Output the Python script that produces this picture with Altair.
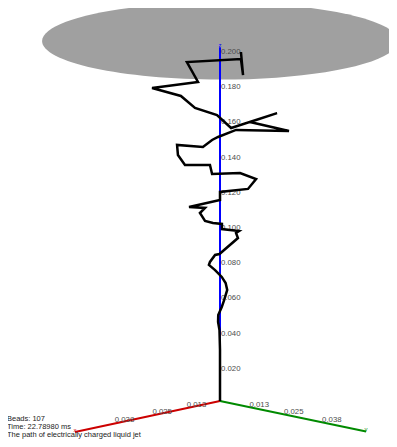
import altair as alt
import pandas as pd

# ---------------- data ----------------
# Jet path, projected: lateral screen offset u and height z (metres)
jet_u = [0.0, 0.0, -0.0003, -0.0011, -0.0010, 0.0010, 0.0024, 0.0041, 0.0032, 0.0010,
         -0.0028, -0.0063, -0.0057, -0.0028, -0.0003, 0.0102, 0.0091, 0.0108, 0.0011, 0.0011,
         -0.0040, -0.0085, -0.0114, -0.0085, -0.0176, 0.0, 0.0, 0.0159, 0.0205, 0.0114,
         -0.0045, -0.0057, -0.0199, -0.0239, -0.0244, -0.0097, -0.0045, -0.0011, 0.0091, 0.0392,
         0.0170, 0.0324, 0.0063, -0.0017, -0.0142, -0.0222, -0.0386, -0.0125, -0.0188, 0.0119,
         0.0131, 0.0119]
jet_z = [0.0, 0.0290, 0.0403, 0.0449, 0.0489, 0.0534, 0.0574, 0.0631, 0.0670, 0.0705,
         0.0744, 0.0773, 0.0790, 0.0830, 0.0835, 0.0926, 0.0955, 0.0966, 0.0977, 0.1006,
         0.1011, 0.1023, 0.1068, 0.1097, 0.1102, 0.1142, 0.1188, 0.1205, 0.1261, 0.1295,
         0.1290, 0.1341, 0.1341, 0.1398, 0.1455, 0.1443, 0.1483, 0.1500, 0.1540, 0.1534,
         0.1585, 0.1636, 0.1551, 0.1625, 0.1665, 0.1733, 0.1778, 0.1813, 0.1926, 0.1943,
         0.1852, 0.1983]

beads = 107
time_ms = "22.78980"
caption = "The path of electrically charged liquid jet"

z_ticks = [0.02, 0.04, 0.06, 0.08, 0.10, 0.12, 0.14, 0.16, 0.18, 0.20]
z_tick_labels = ["0.020", "0.040", "0.060", "0.080", "0.100",
                 "0.120", "0.140", "0.160", "0.180", "0.200"]
xy_ticks = [0.0125, 0.025, 0.0375]
xy_tick_labels = ["0.013", "0.025", "0.038"]
axis_len = 0.05
z_axis_top = 0.201

# projected ends of the horizontal axes (u, z) and perspective factor
x_axis_end = (-0.0824, -0.0176)
y_axis_end = (0.0830, -0.0173)
persp = 0.175

# collector plate (projected ellipse)
plate_z = 0.2045
plate_rx = 0.1011
plate_ratio = 0.2163

# ---------------- layout constants ----------------
W, H = 381, 431
K = 1760.0               # px per metre
ORIGIN_X, ORIGIN_Y = 212, 393   # origin inside the view (px)
umin = -ORIGIN_X / K
umax = umin + W / K
zmax = ORIGIN_Y / K
zmin = zmax - H / K

xs = alt.Scale(domain=[umin, umax], nice=False, zero=False)
ys = alt.Scale(domain=[zmin, zmax], nice=False, zero=False)


def proj(f, end):
    s = (1 - persp) * f / (1 - persp * f)
    return end[0] * s, end[1] * s


# plate
kap = 0.5523
r = plate_ratio
shape = (f"M-1,0C-1,{-kap*r:.4f} {-kap},{-r:.4f} 0,{-r:.4f}"
         f"C{kap},{-r:.4f} 1,{-kap*r:.4f} 1,0"
         f"C1,{kap*r:.4f} {kap},{r:.4f} 0,{r:.4f}"
         f"C{-kap},{r:.4f} -1,{kap*r:.4f} -1,0Z")
plate_df = pd.DataFrame({"u": [0.0], "z": [plate_z]})
plate = alt.Chart(plate_df).mark_point(
    shape=shape, filled=True, color="#a0a0a0", opacity=1, strokeWidth=0,
    size=(2 * plate_rx * K) ** 2
).encode(x=alt.X("u:Q", scale=xs, axis=None), y=alt.Y("z:Q", scale=ys, axis=None))

# axes
ax_rows = []
for name, end in [("x", x_axis_end), ("y", y_axis_end)]:
    ax_rows.append({"axis": name, "i": 0, "u": 0.0, "z": 0.0})
    ax_rows.append({"axis": name, "i": 1, "u": end[0], "z": end[1]})
ax_rows.append({"axis": "z", "i": 0, "u": 0.0, "z": 0.0})
ax_rows.append({"axis": "z", "i": 1, "u": 0.0, "z": z_axis_top})
ax_df = pd.DataFrame(ax_rows)
col_scale = alt.Scale(domain=["x", "y", "z"], range=["#cc0000", "#008a00", "#0000ff"])
axes = alt.Chart(ax_df).mark_line(strokeWidth=2).encode(
    x=alt.X("u:Q", scale=xs, axis=None), y=alt.Y("z:Q", scale=ys, axis=None),
    color=alt.Color("axis:N", scale=col_scale, legend=None),
    detail="axis:N", order="i:Q")

# axis name labels
name_df = pd.DataFrame({
    "axis": ["x", "y", "z"],
    "u": [x_axis_end[0], y_axis_end[0], 0.0],
    "z": [x_axis_end[1], y_axis_end[1], z_axis_top]})
names = alt.Chart(name_df).mark_text(
    fontSize=6, font="Liberation Sans", align="center", baseline="middle", dy=-2
).encode(x=alt.X("u:Q", scale=xs, axis=None), y=alt.Y("z:Q", scale=ys, axis=None),
         text="axis:N", color=alt.Color("axis:N", scale=col_scale, legend=None))

# tick labels
zt_df = pd.DataFrame({"u": [0.0] * len(z_ticks), "z": z_ticks, "t": z_tick_labels})
zlabels = alt.Chart(zt_df).mark_text(
    fontSize=7.8, font="Liberation Sans", align="left", baseline="middle",
    dx=1, dy=3, color="#4d4d4d"
).encode(x=alt.X("u:Q", scale=xs, axis=None), y=alt.Y("z:Q", scale=ys, axis=None), text="t:N")

xy_rows = []
for end in [x_axis_end, y_axis_end]:
    for v, lab in zip(xy_ticks, xy_tick_labels):
        pu, pz = proj(v / axis_len, end)
        xy_rows.append({"u": pu, "z": pz, "t": lab})
xy_df = pd.DataFrame(xy_rows)
xylabels = alt.Chart(xy_df).mark_text(
    fontSize=7.8, font="Liberation Sans", align="left", baseline="middle",
    dx=-2, dy=-3, color="#4d4d4d"
).encode(x=alt.X("u:Q", scale=xs, axis=None), y=alt.Y("z:Q", scale=ys, axis=None), text="t:N")

# jet path
jet_df = pd.DataFrame({"i": list(range(len(jet_u))), "u": jet_u, "z": jet_z})
jet = alt.Chart(jet_df).mark_line(color="black", strokeWidth=2.5, strokeJoin="miter").encode(
    x=alt.X("u:Q", scale=xs, axis=None), y=alt.Y("z:Q", scale=ys, axis=None), order="i:Q")

# info text
info_df = pd.DataFrame({
    "line": [f"Beads: {beads}", f"Time: {time_ms} ms", caption],
    "row": [0, 1, 2]})
info = alt.Chart(info_df).mark_text(
    fontSize=7.5, font="Liberation Sans", align="left", baseline="middle", color="#222222"
).encode(
    x=alt.value(-1),
    y=alt.Y("row:Q", scale=alt.Scale(domain=[0, 2], range=[410.5, 426.5]), axis=None),
    text="line:N")

chart = alt.layer(plate, axes, zlabels, xylabels, names, jet, info).resolve_scale(
    y="independent"
).properties(width=W, height=H, padding=0, autosize="none").configure_view(stroke=None)

chart.save("out.html", embed_options={"renderer": "svg", "actions": False})
